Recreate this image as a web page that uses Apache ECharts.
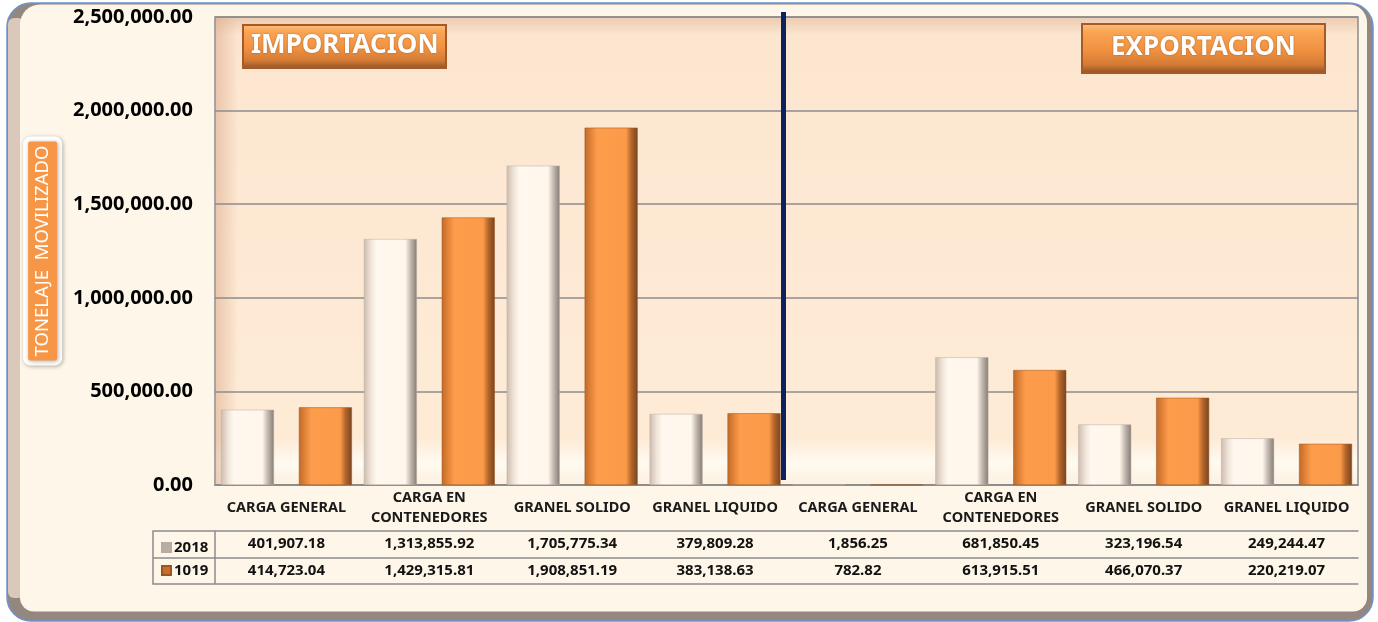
<!DOCTYPE html>
<html>
<head>
<meta charset="utf-8">
<title>Tonelaje movilizado</title>
<script src="https://cdn.jsdelivr.net/npm/echarts@6/dist/echarts.min.js"></script>
<style>
html, body { margin: 0; padding: 0; background: #fff; }
#chart { width: 1378px; height: 622px; }
</style>
</head>
<body>
<div id="chart"></div>
<script>
// data
const categories = ['CARGA GENERAL', 'CARGA EN\nCONTENEDORES', 'GRANEL SOLIDO', 'GRANEL LIQUIDO',
                    'CARGA GENERAL', 'CARGA EN\nCONTENEDORES', 'GRANEL SOLIDO', 'GRANEL LIQUIDO'];
const values2018 = [401907.18, 1313855.92, 1705775.34, 379809.28, 1856.25, 681850.45, 323196.54, 249244.47];
const values1019 = [414723.04, 1429315.81, 1908851.19, 383138.63, 782.82, 613915.51, 466070.37, 220219.07];
const seriesNames = ['2018', '1019'];
const sectionTitles = ['IMPORTACION', 'EXPORTACION'];
const yAxisName = 'TONELAJE  MOVILIZADO';

const FONT = 'Noto Sans';
const GRID_LINE = '#8c8c8c';

function fmt(v) {
    return v.toLocaleString('en-US', { minimumFractionDigits: 2, maximumFractionDigits: 2 });
}

const whiteBar = {
    type: 'linear', x: 0, y: 0, x2: 1, y2: 0,
    colorStops: [
        { offset: 0, color: '#cdbcae' },
        { offset: 0.14, color: '#f1e6da' },
        { offset: 0.24, color: '#fff8ee' },
        { offset: 0.78, color: '#fff6ec' },
        { offset: 0.88, color: '#c4bab1' },
        { offset: 1, color: '#857c76' }
    ]
};
const orangeBar = {
    type: 'linear', x: 0, y: 0, x2: 1, y2: 0,
    colorStops: [
        { offset: 0, color: '#c06a28' },
        { offset: 0.14, color: '#e8883c' },
        { offset: 0.24, color: '#fd9d4c' },
        { offset: 0.78, color: '#fb9a48' },
        { offset: 0.88, color: '#b4652a' },
        { offset: 1, color: '#774520' }
    ]
};
const legendGrey = '#b8aea6';
const titleBg = {
    type: 'linear', x: 0, y: 0, x2: 0, y2: 1,
    colorStops: [
        { offset: 0, color: '#ffc07c' },
        { offset: 0.18, color: '#f9a454' },
        { offset: 0.55, color: '#f0903f' },
        { offset: 0.82, color: '#d27a35' },
        { offset: 1, color: '#8a4f24' }
    ]
};

function sectionTitle(text, left, top, padding) {
    return {
        text: text,
        left: left,
        top: top,
        padding: padding,
        backgroundColor: titleBg,
        borderColor: '#a65a28',
        borderWidth: 2,
        textStyle: {
            color: '#fff',
            fontFamily: FONT,
            fontSize: 26,
            fontWeight: 'bold',
            textShadowColor: 'rgba(90,40,0,0.5)',
            textShadowBlur: 2
        }
    };
}

const chart = echarts.init(document.getElementById('chart'));

chart.setOption({
    animation: false,
    backgroundColor: '#fff',
    textStyle: { fontFamily: FONT },
    title: [
        sectionTitle(sectionTitles[0], 243, 25, [8, 8, 9, 8]),
        sectionTitle(sectionTitles[1], 1082, 24, [11, 29, 12, 29])
    ],
    legend: {
        data: [
            { name: seriesNames[0], itemStyle: { color: legendGrey } },
            { name: seriesNames[1], itemStyle: { color: '#c86f2c' } }
        ],
        orient: 'vertical',
        left: 156,
        top: 535,
        itemGap: 8,
        itemWidth: 9,
        itemHeight: 9,
        icon: 'rect',
        textStyle: { fontFamily: FONT, fontSize: 15, fontWeight: 'bold', color: '#111', padding: [0, 0, 0, -2] }
    },
    grid: {
        left: 215,
        right: 20,
        top: 17,
        bottom: 137,
        show: true,
        borderColor: GRID_LINE,
        borderWidth: 1.5,
        backgroundColor: {
            type: 'linear', x: 0, y: 0, x2: 0, y2: 1,
            colorStops: [
                { offset: 0, color: '#ecc9b0' },
                { offset: 0.04, color: '#fce6d0' },
                { offset: 0.9, color: '#feebd6' },
                { offset: 0.95, color: '#fffaf1' },
                { offset: 1, color: '#fdf0df' }
            ]
        }
    },
    xAxis: [
        {
            type: 'category',
            data: categories,
            axisLine: { lineStyle: { color: GRID_LINE, width: 1.5 } },
            axisTick: { interval: 0, length: 46, lineStyle: { color: GRID_LINE, width: 1.5 } },
            axisLabel: {
                interval: 0,
                margin: 23,
                verticalAlign: 'middle',
                color: '#1a1a1a',
                fontFamily: FONT,
                fontSize: 14.5,
                fontWeight: 'bold',
                lineHeight: 20
            }
        },
        {
            type: 'category',
            data: categories,
            position: 'bottom',
            offset: 46,
            axisLine: { lineStyle: { color: GRID_LINE, width: 1.5 } },
            axisTick: { interval: 0, length: 27, lineStyle: { color: GRID_LINE, width: 1.5 } },
            axisLabel: {
                interval: 0,
                margin: 13,
                verticalAlign: 'middle',
                color: '#111',
                fontFamily: FONT,
                fontSize: 15,
                fontWeight: 'bold',
                formatter: (v, i) => fmt(values2018[i])
            }
        },
        {
            type: 'category',
            data: categories,
            position: 'bottom',
            offset: 73,
            axisLine: { lineStyle: { color: GRID_LINE, width: 1.5 } },
            axisTick: { interval: 0, length: 26, lineStyle: { color: GRID_LINE, width: 1.5 } },
            axisLabel: {
                interval: 0,
                margin: 13,
                verticalAlign: 'middle',
                color: '#111',
                fontFamily: FONT,
                fontSize: 15,
                fontWeight: 'bold',
                formatter: (v, i) => fmt(values1019[i])
            }
        },
        {
            type: 'category',
            data: categories,
            position: 'bottom',
            offset: 99,
            axisLine: { lineStyle: { color: GRID_LINE, width: 1.5 } },
            axisTick: { show: false },
            axisLabel: { show: false }
        }
    ],
    yAxis: {
        type: 'value',
        min: 0,
        max: 2500000,
        interval: 500000,
        name: yAxisName,
        nameLocation: 'middle',
        nameRotate: 90,
        nameGap: 155,
        nameTextStyle: {
            color: '#fff',
            fontFamily: FONT,
            fontSize: 18.5,
            lineHeight: 22,
            backgroundColor: '#f79646',
            padding: [4, 4, 3, 4],
            borderColor: '#fff',
            borderWidth: 5,
            borderRadius: 2,
            shadowColor: 'rgba(0,0,0,0.3)',
            shadowBlur: 4,
            shadowOffsetX: 1,
            shadowOffsetY: 1
        },
        axisLine: { show: false },
        axisTick: { show: false },
        axisLabel: {
            margin: 22,
            color: '#000',
            fontFamily: FONT,
            fontSize: 20,
            fontWeight: 'bold',
            formatter: v => fmt(v)
        },
        splitLine: { lineStyle: { color: GRID_LINE, width: 1.5 } }
    },
    series: [
        {
            name: seriesNames[0],
            type: 'bar',
            data: values2018,
            barWidth: 53,
            barGap: '47%',
            itemStyle: { color: whiteBar, borderColor: '#b8aca2', borderWidth: 0.5 }
        },
        {
            name: seriesNames[1],
            type: 'bar',
            data: values1019,
            barWidth: 53,
            barGap: '47%',
            itemStyle: { color: orangeBar, borderColor: '#9a5522', borderWidth: 0.5 }
        }
    ],
    graphic: [
        // frame
        {
            type: 'rect', z: -10, silent: true,
            shape: { x: 7, y: 3, width: 1366, height: 618, r: 24 },
            style: { fill: '#938780', stroke: '#6d93cd', lineWidth: 1.5 }
        },
        {
            type: 'rect', z: -9, silent: true,
            shape: { x: 8, y: 18, width: 16, height: 580, r: 6 },
            style: { fill: '#dac8ba' }
        },
        {
            type: 'rect', z: -8, silent: true,
            shape: { x: 20, y: 4.5, width: 1347, height: 607, r: [20, 18, 14, 14] },
            style: { fill: '#fef6e8' }
        },
        // shading on the left edge of the plot
        {
            type: 'rect', z: 0, silent: true,
            shape: { x: 216, y: 18, width: 22, height: 466 },
            style: {
                fill: {
                    type: 'linear', x: 0, y: 0, x2: 1, y2: 0,
                    colorStops: [
                        { offset: 0, color: 'rgba(220,170,140,0.55)' },
                        { offset: 1, color: 'rgba(220,170,140,0)' }
                    ]
                }
            }
        },
        // separator between import and export
        {
            type: 'rect', z: 10, silent: true,
            shape: { x: 781, y: 12, width: 5, height: 468 },
            style: { fill: '#0c2260' }
        },
        // legend column of the data table
        {
            type: 'polyline', z: 10, silent: true,
            shape: { points: [[215, 531], [153, 531], [153, 584], [215, 584]] },
            style: { stroke: GRID_LINE, lineWidth: 1.5, fill: null }
        },
        {
            type: 'line', z: 10, silent: true,
            shape: { x1: 153, y1: 558, x2: 215, y2: 558 },
            style: { stroke: GRID_LINE, lineWidth: 1.5 }
        },
        {
            type: 'line', z: 10, silent: true,
            shape: { x1: 215, y1: 531, x2: 215, y2: 584 },
            style: { stroke: GRID_LINE, lineWidth: 1.5 }
        }
    ]
});
</script>
</body>
</html>
